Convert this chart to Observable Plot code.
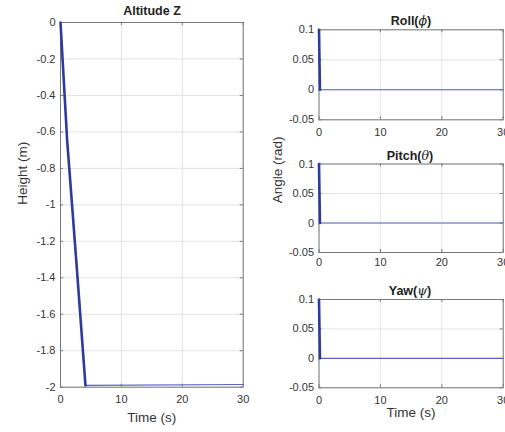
<!DOCTYPE html>
<html>
<head>
<meta charset="utf-8">
<script src="https://cdn.jsdelivr.net/npm/d3@7"></script>
<script src="https://cdn.jsdelivr.net/npm/@observablehq/plot@0.6"></script>
<style>
  html, body { margin: 0; padding: 0; background: #fff; overflow: hidden; }
  #fig { position: relative; width: 505px; height: 432px; overflow: hidden; font-family: "Liberation Sans", Arial, sans-serif; }
  #fig svg { position: absolute; overflow: visible; }
  .ttl { position: absolute; transform: translate(-50%, -50%); font-weight: bold; font-size: 12.5px; color: #222; white-space: nowrap; line-height: 1; }
  .ttl i { font-weight: normal; font-family: "DejaVu Serif", "Liberation Serif", serif; }
</style>
</head>
<body>
<div id="fig"></div>
<script>
// ---- Data ----
const altTime = [0, 1.1, 2.6, 4.1, 30];
const altZ = [0, -0.65, -1.31, -1.99, -1.985];
const angTime = [0, 0.15, 30];
const rollAngle = [0.1, 0, 0];
const pitchAngle = [0.1, 0, 0];
const yawAngle = [0.1, 0, 0];
const timeTicks = [0, 10, 20, 30];
const heightTicks = [-2, -1.8, -1.6, -1.4, -1.2, -1, -0.8, -0.6, -0.4, -0.2, 0];
const angleTicks = [-0.05, 0, 0.05, 0.1];

const fmt = d => String(+d.toFixed(2));
const thickColor = "#2c3b9e";
const thinColor = "#5863c4";

const fig = document.getElementById("fig");

function panel({left, top, width, height, ml, mr, mt, mb, yDomain, yTicks, rows, thickN, xPad, extra}) {
  const fw = width - ml - mr;
  const fh = height - mt - mb;
  const p = Plot.plot({
    width, height,
    marginLeft: ml, marginRight: mr, marginTop: mt, marginBottom: mb,
    style: {fontFamily: "Liberation Sans, Arial, sans-serif", color: "#333", background: "transparent", overflow: "visible"},
    x: {domain: [0, 30]},
    y: {domain: yDomain},
    marks: [
      Plot.gridX(timeTicks, {stroke: "#e3e3e3", strokeOpacity: 1}),
      Plot.gridY(yTicks, {stroke: "#e3e3e3", strokeOpacity: 1}),
      // inward ticks on all four sides
      Plot.ruleY(yTicks, {y: d => d, insetRight: fw - 3, stroke: "#777"}),
      Plot.ruleY(yTicks, {y: d => d, insetLeft: fw - 3, stroke: "#777"}),
      Plot.ruleX(timeTicks, {x: d => d, insetTop: fh - 3, stroke: "#777"}),
      Plot.ruleX(timeTicks, {x: d => d, insetBottom: fh - 3, stroke: "#777"}),
      Plot.frame({stroke: "#7a7a7a", strokeWidth: 1}),
      Plot.axisY(yTicks, {tickSize: 0, tickPadding: 5, fontSize: 11, tickFormat: fmt, label: null}),
      Plot.axisX(timeTicks, {tickSize: 0, tickPadding: xPad, fontSize: 11, tickFormat: fmt, label: null}),
      Plot.line(rows, {x: "t", y: "v", stroke: thinColor, strokeWidth: 1.1}),
      Plot.line(rows.slice(0, thickN), {x: "t", y: "v", stroke: thickColor, strokeWidth: 2.6}),
      ...(extra || [])
    ]
  });
  p.style.left = left + "px";
  p.style.top = top + "px";
  fig.appendChild(p);
}

function title(html, x, y) {
  const d = document.createElement("div");
  d.className = "ttl";
  d.innerHTML = html;
  d.style.left = x + "px";
  d.style.top = y + "px";
  fig.appendChild(d);
}

const altRows = altTime.map((t, i) => ({t, v: altZ[i]}));
const rollRows = angTime.map((t, i) => ({t, v: rollAngle[i]}));
const pitchRows = angTime.map((t, i) => ({t, v: pitchAngle[i]}));
const yawRows = angTime.map((t, i) => ({t, v: yawAngle[i]}));

const labelStyle = {fontSize: 13.5, fill: "#333", fontFamily: "Liberation Sans, Arial, sans-serif"};

// Left: Altitude
panel({
  left: 0, top: 0, width: 250, height: 432,
  ml: 60, mr: 7.3, mt: 22, mb: 45.3,
  yDomain: [-2, 0], yTicks: heightTicks, rows: altRows, thickN: 4, xPad: 8,
  extra: [
    Plot.text(["Height (m)"], {text: d => d, frameAnchor: "left", rotate: -90, dx: -38, ...labelStyle}),
    Plot.text(["Time (s)"], {text: d => d, frameAnchor: "bottom", dy: 35, ...labelStyle})
  ]
});

// Right: Roll
panel({
  left: 260, top: 0, width: 260, height: 140,
  ml: 58.5, mr: 17.3, mt: 29.3, mb: 20.7,
  yDomain: [-0.05, 0.1], yTicks: angleTicks, rows: rollRows, thickN: 2, xPad: 8
});

// Right: Pitch
panel({
  left: 260, top: 140, width: 260, height: 140,
  ml: 58.5, mr: 17.3, mt: 23.5, mb: 28,
  yDomain: [-0.05, 0.1], yTicks: angleTicks, rows: pitchRows, thickN: 2, xPad: 6,
  extra: [
    Plot.text(["Angle (rad)"], {text: d => d, frameAnchor: "left", rotate: -90, dx: -41, dy: -5, ...labelStyle})
  ]
});

// Right: Yaw
panel({
  left: 260, top: 280, width: 260, height: 152,
  ml: 58.5, mr: 17.3, mt: 19, mb: 44.7,
  yDomain: [-0.05, 0.1], yTicks: angleTicks, rows: yawRows, thickN: 2, xPad: 8,
  extra: [
    Plot.text(["Time (s)"], {text: d => d, frameAnchor: "bottom", dy: 29, ...labelStyle})
  ]
});

title("Altitude Z", 152, 11);
title("Roll(<i>ϕ</i>)", 411, 21);
title("Pitch(<i>θ</i>)", 410, 155.5);
title("Yaw(<i>ψ</i>)", 410, 291);
</script>
</body>
</html>
